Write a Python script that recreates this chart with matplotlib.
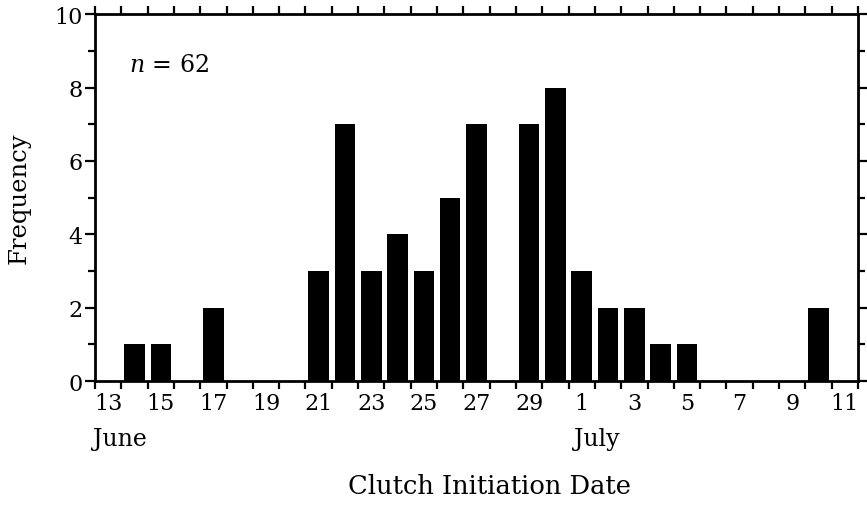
import numpy as np
import matplotlib.pyplot as plt
from matplotlib.ticker import MultipleLocator

# -----------------------------
# DATA (day index 0 = 13 June)
# -----------------------------
tick_labels = ["13", "15", "17", "19", "21", "23", "25", "27", "29",
               "1", "3", "5", "7", "9", "11"]
bar_days = [1, 2, 4, 8, 9, 10, 11, 12, 13, 14, 16, 17, 18, 19, 20, 21, 22, 27]
bar_counts = [1, 1, 2, 3, 7, 3, 4, 3, 5, 7, 7, 8, 3, 2, 2, 1, 1, 2]
n_total = 62

plt.rcParams["font.family"] = ["DejaVu Serif"]
plt.rcParams["mathtext.fontset"] = "dejavuserif"
plt.rcParams["font.size"] = 16

fig = plt.figure(figsize=(8.67, 5.06), dpi=100)
ax = fig.add_axes([0.1096, 0.245, 0.88, 0.725])

x = np.array(bar_days) + 0.5
ax.bar(x, bar_counts, width=0.78, color="black", edgecolor="black", linewidth=0)

ax.set_xlim(0, 29)
ax.set_ylim(0, 10)

# day boundaries as tick marks, labels centred on each day
ax.set_xticks(np.arange(0, 30))
ax.set_xticklabels([])
ax.set_xticks(np.arange(0, 29, 2) + 0.5, minor=True)
ax.set_xticklabels(tick_labels, minor=True)
ax.tick_params(axis="x", which="major", direction="out", length=6, width=1.6,
               top=True, bottom=True)
ax.tick_params(axis="x", which="minor", length=0, pad=8)

ax.yaxis.set_major_locator(MultipleLocator(2))
ax.yaxis.set_minor_locator(MultipleLocator(1))
ax.tick_params(axis="y", which="major", direction="out", length=7, width=1.6,
               left=True, right=True, pad=2)
ax.tick_params(axis="y", which="minor", direction="out", length=5, width=1.6,
               left=True, right=True)

for s in ax.spines.values():
    s.set_linewidth(2.0)

ax.set_ylabel("Frequency", labelpad=17, fontsize=17.5)
ax.text(0.045, 0.845, r"$n$ = %d" % n_total, transform=ax.transAxes, fontsize=17)

trans = ax.get_xaxis_transform()
ax.text(-0.08, -0.158, "June", transform=trans, ha="left", va="center", fontsize=17)
ax.text(18.2, -0.158, "July", transform=trans, ha="left", va="center", fontsize=17)
fig.text(0.565, 0.038, "Clutch Initiation Date", ha="center", va="center", fontsize=18.5)

fig.savefig("out.png", dpi=100)
